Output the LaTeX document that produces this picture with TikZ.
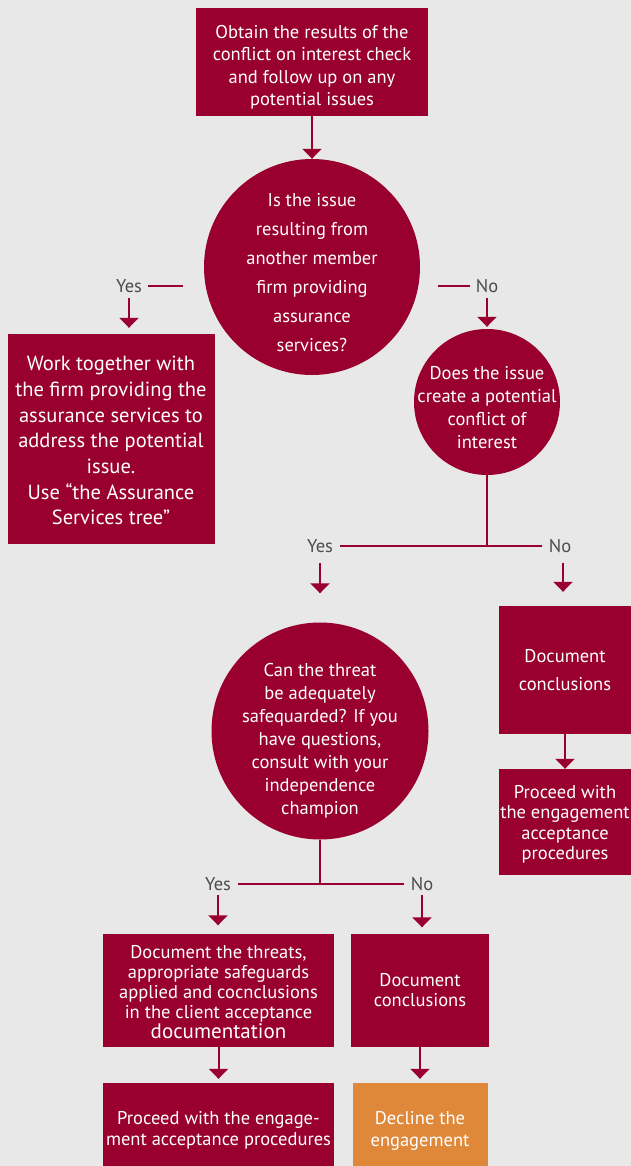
\documentclass[tikz,border=0pt]{standalone}
\usepackage{fontspec}
\setmainfont{PT Sans}
\usetikzlibrary{shapes, arrows.meta, calc, positioning}
\definecolor{flowclaret}{rgb}{0.6, 0, 0.188}
\definecolor{flowamber}{rgb}{0.878, 0.533, 0.227}
\definecolor{flowpaper}{rgb}{0.91, 0.91, 0.91}
\definecolor{flowgrey}{rgb}{0.3, 0.3, 0.3}
\newcommand{\toppad}[1]{\rule{0pt}{#1}}
\tikzset{
  stepbox/.style={draw=none, fill=flowclaret, text=white, align=center, inner sep=1pt},
  askcircle/.style={circle, fill=flowclaret, text=white, align=center, inner sep=-30pt},
  answer/.style={text=flowgrey, inner sep=2pt, font=\fontsize{18.5}{20}\selectfont},
  conn/.style={draw=flowclaret, line width=2pt},
  flowarrow/.style={conn, -{Triangle[width=19pt,length=10pt]}}
}

\begin{document}
\begin{tikzpicture}[x=1pt, y=-1pt]
        \fill[flowpaper] (0,0) rectangle (631,1166);
        \useasboundingbox (0,0) rectangle (631,1166);

        \node[stepbox, minimum width=232, minimum height=108, font=\fontsize{18.5}{22.5}\selectfont] (obtain) at (312,62)
            {\toppad{24pt}Obtain the results of the\\conflict on interest check\\and follow up on any\\potential issues};
        \node[askcircle, minimum size=216, font=\fontsize{18.5}{29}\selectfont] (issueQ) at (312,267)
            {\toppad{24pt}Is the issue\\resulting from\\another member\\firm providing\\assurance\\services?};

        \node[answer] (yesA) at (129,286) {Yes};
        \node[answer] (noA) at (487,286) {No};
        \coordinate (yesAdash) at (183,286);
        \coordinate (noAdash) at (438,286);

        \node[stepbox, minimum width=207, minimum height=210, font=\fontsize{20.5}{25.7}\selectfont] (work) at (111,439)
            {\toppad{18pt}Work together with\\the firm providing the\\assurance services to\\address the potential\\issue.\\Use ``the Assurance\\Services tree''};
        \node[askcircle, minimum size=146, font=\fontsize{18.5}{23}\selectfont] (conflictQ) at (487,402)
            {\toppad{25pt}Does the issue\\create a potential\\conflict of\\interest};

        \node[answer] (yesB) at (320,546) {Yes};
        \node[answer] (noB) at (560,546) {No};

        \node[stepbox, minimum width=132, minimum height=128, font=\fontsize{18.5}{28}\selectfont] (docR) at (565,670)
            {Document\\conclusions};
        \node[stepbox, minimum width=132, minimum height=106, font=\fontsize{18.5}{20.5}\selectfont] (proceedR) at (565,822)
            {\toppad{18pt}Proceed with\\the engagement\\acceptance\\procedures};

        \node[askcircle, minimum size=217, font=\fontsize{18.5}{23}\selectfont] (threatQ) at (320,731)
            {\toppad{33pt}Can the threat\\be adequately\\safequarded? If you\\have questions,\\consult with your\\independence\\champion};

        \node[answer] (yesC) at (218,884) {Yes};
        \node[answer] (noC) at (422,884) {No};

        \node[stepbox, minimum width=231, minimum height=113, font=\fontsize{18.5}{20}\selectfont] (docThreats) at (218.5,990)
            {\toppad{18pt}Document the threats,\\appropriate safeguards\\applied and cocnclusions\\in the client acceptance\\{\fontsize{21}{22}\selectfont documentation}};
        \node[stepbox, minimum width=138, minimum height=113, font=\fontsize{18.5}{20}\selectfont] (docC) at (420,990)
            {Document\\conclusions};
        \node[stepbox, minimum width=231, minimum height=84, font=\fontsize{18.5}{20.5}\selectfont] (proceedB) at (218.5,1125)
            {\toppad{24pt}Proceed with the engage-\\ment acceptance procedures};
        \node[stepbox, fill=flowamber, minimum width=135, minimum height=84, font=\fontsize{18.5}{22}\selectfont] (decline) at (420,1125)
            {\toppad{24pt}Decline the\\engagement};

        % top of the tree
        \draw[flowarrow] (obtain) -- (issueQ);
        \draw[conn, shorten <=4pt] (yesA.east) -- (yesAdash);
        \draw[conn, shorten <=4pt] (noA.west) -- (noAdash);
        \draw[flowarrow, shorten <=3pt, shorten >=6pt] (yesA.south) -- (yesA.south |- work.north);
        \draw[flowarrow, shorten <=3pt, shorten >=2pt] (noA.south) -- (noA.south |- conflictQ.north);

        % second question
        \draw[conn] (conflictQ.south) -- (conflictQ.south |- yesB);
        \draw[conn, shorten <=5pt, shorten >=5pt] (yesB.east) -- (noB.west);
        \draw[flowarrow, shorten <=8pt, shorten >=29pt] (yesB.south) -- (yesB.south |- threatQ.north);
        \draw[flowarrow, shorten <=8pt, shorten >=14pt] ([xshift=3pt]noB.south) -- ([xshift=3pt]noB.south |- docR.north);
        \draw[flowarrow] (docR) -- (proceedR);

        % threat question
        \draw[conn] (threatQ.south) -- (threatQ.south |- yesC);
        \draw[conn, shorten <=5pt, shorten >=5pt] (yesC.east) -- (noC.west);
        \draw[flowarrow, shorten <=2pt, shorten >=8pt] (yesC.south) -- (yesC.south |- docThreats.north);
        \draw[flowarrow, shorten <=2pt, shorten >=6pt] (noC.south) -- (noC.south |- docC.north);
        \draw[flowarrow, shorten >=4pt] (docThreats) -- (proceedB);
        \draw[flowarrow, shorten >=4pt] (docC) -- (decline);
    \end{tikzpicture}
\end{document}
